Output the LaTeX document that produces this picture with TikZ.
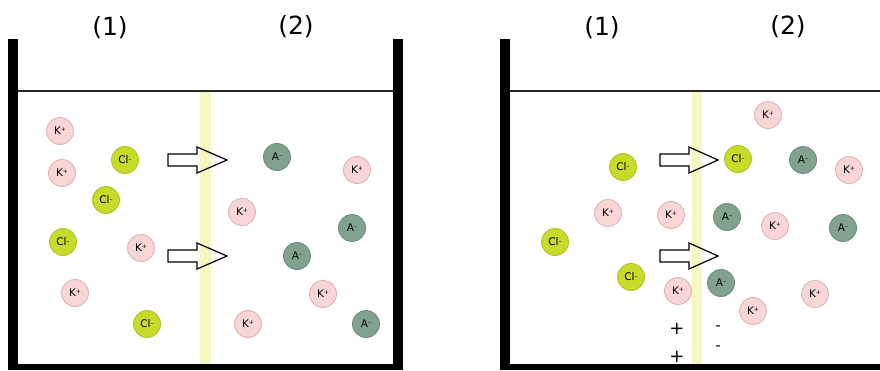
\documentclass[tikz,border=0pt]{standalone}
\usepackage{fontspec}
\setmainfont{DejaVu Sans}
\definecolor{kfill}{RGB}{248,214,214}
\definecolor{kdraw}{RGB}{222,180,180}
\definecolor{clfill}{RGB}{200,218,42}
\definecolor{cldraw}{RGB}{178,196,40}
\definecolor{afill}{RGB}{128,162,142}
\definecolor{adraw}{RGB}{108,142,122}
\definecolor{memb}{RGB}{246,246,192}
\newcommand{\ionsup}[1]{\raisebox{0.5ex}{\fontsize{6}{6}\selectfont #1}}
\begin{document}
\begin{tikzpicture}[x=1pt,y=-1pt,
  ion/.style={circle, minimum size=27pt, inner sep=0pt, line width=0.9pt,
    font=\fontsize{10.5}{10.5}\selectfont},
  kion/.style={ion, fill=kfill, draw=kdraw},
  clion/.style={ion, fill=clfill, draw=cldraw},
  aion/.style={ion, fill=afill, draw=adraw},
  wall/.style={fill=black},
  membrane/.style={fill=memb},
  surface/.style={line width=2pt, draw=black!85},
  flux/.style={draw=black, line width=1.2pt, line join=miter},
  title/.style={font=\fontsize{25}{25}\selectfont},
  charge/.style={font=\fontsize{18}{18}\selectfont}
]
\useasboundingbox (0,0) rectangle (880,370);
\fill[white] (0,0) rectangle (880,370);

% ---------- left vessel ----------
\fill[membrane] (200,91) rectangle (211,364);
\draw[surface] (17,90.5) -- (394,90.5);
\fill[wall] (8,39) rectangle (18,370);
\fill[wall] (393,39) rectangle (403,370);
\fill[wall] (8,364) rectangle (403,370);

\node[title] (l1) at (110,28) {(1)};
\node[title] (l2) at (296,27) {(2)};

\draw[flux, shift={(168,160)}] (0,-6) -- (29,-6) -- (29,-13) -- (59,0) -- (29,13) -- (29,6) -- (0,6) -- cycle;
\draw[flux, shift={(168,256)}] (0,-6) -- (29,-6) -- (29,-13) -- (59,0) -- (29,13) -- (29,6) -- (0,6) -- cycle;

\node[kion]  (lk1) at (60,131)  {K\ionsup{+}};
\node[kion]  (lk2) at (62,173)  {K\ionsup{+}};
\node[clion] (lc1) at (125,160) {Cl\ionsup{--}};
\node[clion] (lc2) at (106,200) {Cl\ionsup{--}};
\node[clion] (lc3) at (63,242)  {Cl\ionsup{--}};
\node[kion]  (lk3) at (141,248) {K\ionsup{+}};
\node[kion]  (lk4) at (75,293)  {K\ionsup{+}};
\node[clion] (lc4) at (147,324) {Cl\ionsup{--}};
\node[aion]  (la1) at (277,157) {A\ionsup{--}};
\node[kion]  (lk5) at (357,170) {K\ionsup{+}};
\node[kion]  (lk6) at (242,212) {K\ionsup{+}};
\node[aion]  (la2) at (352,228) {A\ionsup{--}};
\node[aion]  (la3) at (297,256) {A\ionsup{--}};
\node[kion]  (lk7) at (323,294) {K\ionsup{+}};
\node[kion]  (lk8) at (248,324) {K\ionsup{+}};
\node[aion]  (la4) at (366,324) {A\ionsup{--}};

% ---------- right vessel ----------
\fill[membrane] (692,91) rectangle (702,364);
\draw[surface] (509,90.5) -- (880,90.5);
\fill[wall] (500,39) rectangle (510,370);
\fill[wall] (500,364) rectangle (880,370);

\node[title] (r1) at (602,28) {(1)};
\node[title] (r2) at (788,27) {(2)};

\draw[flux, shift={(660,160)}] (0,-6) -- (29,-6) -- (29,-13) -- (58,0) -- (29,13) -- (29,6) -- (0,6) -- cycle;
\draw[flux, shift={(660,256)}] (0,-6) -- (29,-6) -- (29,-13) -- (58,0) -- (29,13) -- (29,6) -- (0,6) -- cycle;

\node[kion]  (rk1) at (768,115) {K\ionsup{+}};
\node[clion] (rc1) at (623,167) {Cl\ionsup{--}};
\node[clion] (rc2) at (738,159) {Cl\ionsup{--}};
\node[aion]  (ra1) at (803,160) {A\ionsup{--}};
\node[kion]  (rk2) at (849,170) {K\ionsup{+}};
\node[kion]  (rk3) at (608,213) {K\ionsup{+}};
\node[kion]  (rk4) at (671,215) {K\ionsup{+}};
\node[aion]  (ra2) at (727,217) {A\ionsup{--}};
\node[kion]  (rk5) at (775,226) {K\ionsup{+}};
\node[aion]  (ra3) at (843,228) {A\ionsup{--}};
\node[clion] (rc3) at (555,242) {Cl\ionsup{--}};
\node[clion] (rc4) at (631,277) {Cl\ionsup{--}};
\node[kion]  (rk6) at (678,291) {K\ionsup{+}};
\node[aion]  (ra4) at (721,283) {A\ionsup{--}};
\node[kion]  (rk7) at (753,311) {K\ionsup{+}};
\node[kion]  (rk8) at (815,294) {K\ionsup{+}};

\node[charge] (p1) at (677,329) {+};
\node[charge] (p2) at (677,357) {+};
\node[charge, font=\fontsize{15}{15}\selectfont] (m1) at (718,328) {-};
\node[charge, font=\fontsize{15}{15}\selectfont] (m2) at (718,348) {-};
\end{tikzpicture}
\end{document}
